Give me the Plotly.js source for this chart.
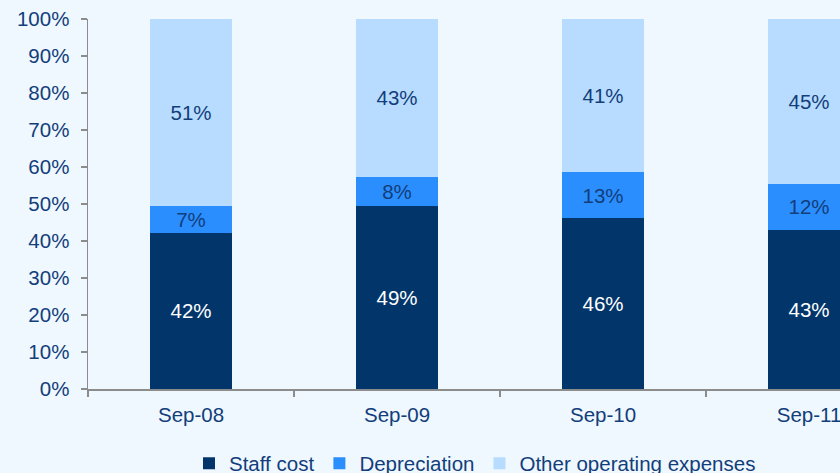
<!DOCTYPE html>
<html>
<head>
<meta charset="utf-8">
<script src="https://cdn.plot.ly/plotly-3.0.1.min.js"></script>
<style>
html,body{margin:0;padding:0;overflow:hidden;background:#EFF7FF;width:840px;height:473px;}
#chart{width:950px;height:490px;}
</style>
</head>
<body>
<div id="chart"></div>
<script>
var categories = ["Sep-08", "Sep-09", "Sep-10", "Sep-11"];
var staffCost = [42.2, 49.5, 46.2, 43.0];
var depreciation = [7.3, 7.8, 12.4, 12.4];
var otherOpex = [50.5, 42.7, 41.4, 44.6];
var staffLabels = ["42%", "49%", "46%", "43%"];
var deprLabels = ["7%", "8%", "13%", "12%"];
var otherLabels = ["51%", "43%", "41%", "45%"];

var FONT = "Liberation Sans, Arial, sans-serif";
var TXT = "#123E7A";
var FS = 20.5;

function barTrace(name, y, text, color, textColor) {
  return {
    type: "bar", name: name, x: categories, y: y, text: text,
    textposition: "inside", insidetextanchor: "middle",
    textfont: {family: FONT, size: FS, color: textColor},
    marker: {color: color, line: {width: 0}},
    width: 0.4, hoverinfo: "skip", constraintext: "none"
  };
}

var data = [
  barTrace("Staff cost", staffCost, staffLabels, "#02366B", "#FFFFFF"),
  barTrace("Depreciation", depreciation, deprLabels, "#2B8EFF", TXT),
  barTrace("Other operating expenses", otherOpex, otherLabels, "#B8DCFF", TXT)
];

var layout = {
  width: 950, height: 490,
  barmode: "stack",
  paper_bgcolor: "#EFF7FF", plot_bgcolor: "#EFF7FF",
  margin: {l: 88, r: 38, t: 19, b: 101},
  font: {family: FONT, size: FS, color: TXT},
  xaxis: {
    type: "category", showgrid: false, zeroline: false,
    showline: true, linecolor: "#8C8C8C", linewidth: 1.5,
    ticks: "outside", tickson: "boundaries", ticklen: 6, tickcolor: "#8C8C8C", tickwidth: 1.5,
    tickfont: {family: FONT, size: FS, color: TXT},
    ticklabelstandoff: 7,
    range: [-0.5, 3.5]
  },
  yaxis: {
    range: [0, 100], dtick: 10, ticksuffix: "%",
    showgrid: false, zeroline: false,
    showline: true, linecolor: "#8C8C8C", linewidth: 1.5,
    ticks: "outside", ticklen: 6, tickcolor: "#8C8C8C", tickwidth: 1.5,
    tickfont: {family: FONT, size: FS, color: TXT},
    ticklabelstandoff: 7
  },
  legend: {
    orientation: "h", xref: "container", yref: "container",
    x: 0.5, xanchor: "center", y: 0.095, yanchor: "top",
    font: {family: FONT, size: FS, color: TXT},
    bgcolor: "rgba(0,0,0,0)", itemwidth: 30, traceorder: "normal"
  },
  showlegend: true
};

Plotly.newPlot("chart", data, layout, {staticPlot: true, displayModeBar: false});
</script>
</body>
</html>
